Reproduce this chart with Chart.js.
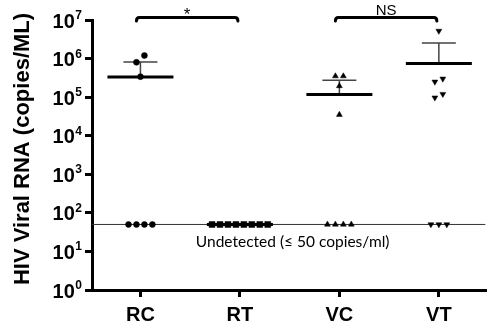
<!DOCTYPE html>
<html><head><meta charset="utf-8">
<script src="https://cdn.jsdelivr.net/npm/chart.js@4/dist/chart.umd.min.js"></script>
<style>html,body{margin:0;padding:0;background:#fff}canvas{display:block}</style>
</head><body><canvas id="c" width="490" height="329"></canvas>
<script>
// ---- data ----
const categories = ['RC', 'RT', 'VC', 'VT'];
const rcValues = [1200000, 800000, 340000, 50, 50, 50, 50];
const rtValues = [50, 50, 50, 50, 50, 50, 50, 50];
const vcValues = [350000, 350000, 195000, 35000, 50, 50, 50, 50];
const vtValues = [5200000, 300000, 250000, 120000, 97000, 50, 50, 50];
const yTickExponents = [0, 1, 2, 3, 4, 5, 6, 7];
const detectionLimit = 50;
const limitLabel = 'Undetected (\u2264 50 copies/ml)';
const yTitle = 'HIV Viral RNA (copies/ML)';
const comparisonFrom = [0, 2];
const comparisonTo = [1, 3];
const comparisonLabels = ['*', 'NS'];

const groups = [rcValues, rtValues, vcValues, vtValues];
const markerStyles = ['circle', 'rect', 'triangle', 'triangle'];
const markerRotation = [0, 0, 0, 180];
const markerRadius = [3, 4.2, 3.4, 3.4];
const JITTER = 0.08;

function spread(values, center, step) {
  const sorted = values.slice().sort((a, b) => a - b);
  const clusters = [];
  for (const v of sorted) {
    const g = clusters[clusters.length - 1];
    if (g && Math.log10(v) - Math.log10(g[g.length - 1]) < 0.2) g.push(v);
    else clusters.push([v]);
  }
  const pts = [];
  clusters.forEach(g => g.forEach((v, i) => pts.push({x: center + (i - (g.length - 1) / 2) * step, y: v})));
  return pts;
}
function mean(a) { return a.reduce((s, v) => s + v, 0) / a.length; }
function sd(a) { const m = mean(a); return Math.sqrt(a.reduce((s, v) => s + (v - m) ** 2, 0) / (a.length - 1)); }

const datasets = groups.map((vals, i) => ({
  label: categories[i],
  data: spread(vals, i, JITTER),
  pointStyle: markerStyles[i],
  rotation: markerRotation[i],
  pointRadius: markerRadius[i],
  pointHoverRadius: markerRadius[i],
  backgroundColor: '#000',
  borderColor: '#000',
  borderWidth: 0.5,
  showLine: false
}));

const decorPlugin = {
  id: 'decor',
  beforeDatasetsDraw(chart) {
    const {ctx, chartArea, scales: {x, y}} = chart;
    ctx.save();
    const yl = y.getPixelForValue(detectionLimit);
    ctx.strokeStyle = '#333'; ctx.lineWidth = 1;
    ctx.beginPath(); ctx.moveTo(chartArea.left, yl); ctx.lineTo(chartArea.right, yl); ctx.stroke();
    groups.forEach((vals, i) => {
      const cx = x.getPixelForValue(i);
      const m = mean(vals), s = sd(vals);
      const ym = y.getPixelForValue(m);
      if (s > 0) {
        const yt = y.getPixelForValue(m + s);
        ctx.strokeStyle = '#444'; ctx.lineWidth = 1.5;
        ctx.beginPath(); ctx.moveTo(cx, ym); ctx.lineTo(cx, yt);
        ctx.moveTo(cx - 17, yt); ctx.lineTo(cx + 17, yt); ctx.stroke();
      }
      ctx.strokeStyle = '#000'; ctx.lineWidth = 3;
      ctx.beginPath(); ctx.moveTo(cx - 33, ym); ctx.lineTo(cx + 33, ym); ctx.stroke();
    });
    ctx.restore();
  },
  afterDraw(chart) {
    const {ctx, chartArea, scales: {x, y}} = chart;
    ctx.save();
    ctx.fillStyle = '#000';
    // y axis title
    ctx.save();
    ctx.translate(23, (chartArea.top + chartArea.bottom) / 2 - 6);
    ctx.rotate(-Math.PI / 2);
    ctx.font = 'bold 22px "Liberation Sans", Arial, sans-serif';
    ctx.textAlign = 'center'; ctx.textBaseline = 'middle';
    ctx.fillText(yTitle, 0, 0);
    ctx.restore();
    // y tick labels 10^n
    yTickExponents.forEach(e => {
      const py = y.getPixelForValue(Math.pow(10, e));
      const right = 82;
      ctx.font = 'bold 12px "Liberation Sans", Arial, sans-serif';
      ctx.textAlign = 'right'; ctx.textBaseline = 'alphabetic';
      const ew = ctx.measureText(String(e)).width;
      ctx.fillText(String(e), right, py - 1);
      ctx.font = 'bold 20px "Liberation Sans", Arial, sans-serif';
      ctx.fillText('10', right - ew - 0.5, py + 7.5);
    });
    // detection label
    const yl = y.getPixelForValue(detectionLimit);
    ctx.font = '15.5px Lato, "Open Sans", sans-serif';
    ctx.textAlign = 'center'; ctx.textBaseline = 'middle';
    ctx.fillText(limitLabel, (chartArea.left + chartArea.right) / 2 + 4, yl + 17.5);
    // comparison brackets
    comparisonFrom.forEach((f, k) => {
      const x1 = x.getPixelForValue(f) - 4;
      const x2 = x.getPixelForValue(comparisonTo[k]) - 2;
      const by = 17.5;
      ctx.strokeStyle = '#000'; ctx.lineWidth = 3; ctx.lineJoin = 'round'; ctx.lineCap = 'round';
      ctx.beginPath();
      ctx.moveTo(x1, 21); ctx.quadraticCurveTo(x1, by, x1 + 3, by);
      ctx.lineTo(x2 - 3, by); ctx.quadraticCurveTo(x2, by, x2, 21);
      ctx.stroke();
      const mid = (x1 + x2) / 2;
      ctx.textAlign = 'center'; ctx.textBaseline = 'alphabetic';
      if (comparisonLabels[k] === '*') {
        ctx.font = '17px "Liberation Sans", Arial, sans-serif';
        ctx.fillText(comparisonLabels[k], mid, 20);
      } else {
        ctx.font = '15px "Liberation Sans", Arial, sans-serif';
        ctx.fillText(comparisonLabels[k], mid, 15);
      }
    });
    ctx.restore();
  }
};

new Chart(document.getElementById('c'), {
  type: 'scatter',
  data: {datasets},
  options: {
    responsive: false,
    animation: false,
    devicePixelRatio: 1,
    layout: {padding: {left: 0, top: 20, right: 0, bottom: 0}},
    plugins: {legend: {display: false}, tooltip: {enabled: false}},
    scales: {
      x: {
        type: 'linear',
        min: -0.487, max: 3.467,
        afterBuildTicks: s => { s.ticks = categories.map((c, i) => ({value: i})); },
        afterFit: s => { s.height = 39; },
        ticks: {
          callback: v => categories[v],
          font: {family: '"Liberation Sans", Arial, sans-serif', size: 20, weight: 'bold'},
          color: '#000', padding: 6, maxRotation: 0, autoSkip: false
        },
        grid: {drawOnChartArea: false, drawTicks: true, tickLength: 7, color: '#000', lineWidth: 3},
        border: {display: true, color: '#000', width: 3}
      },
      y: {
        type: 'logarithmic',
        min: 1, max: 1e7,
        afterBuildTicks: s => { s.ticks = yTickExponents.map(e => ({value: Math.pow(10, e)})); },
        afterFit: s => { s.width = 92; },
        ticks: {display: false},
        title: {display: false},
        grid: {drawOnChartArea: false, drawTicks: true, tickLength: 7, color: '#000', lineWidth: 3},
        border: {display: true, color: '#000', width: 3}
      }
    }
  },
  plugins: [decorPlugin]
});
</script>
</body></html>
